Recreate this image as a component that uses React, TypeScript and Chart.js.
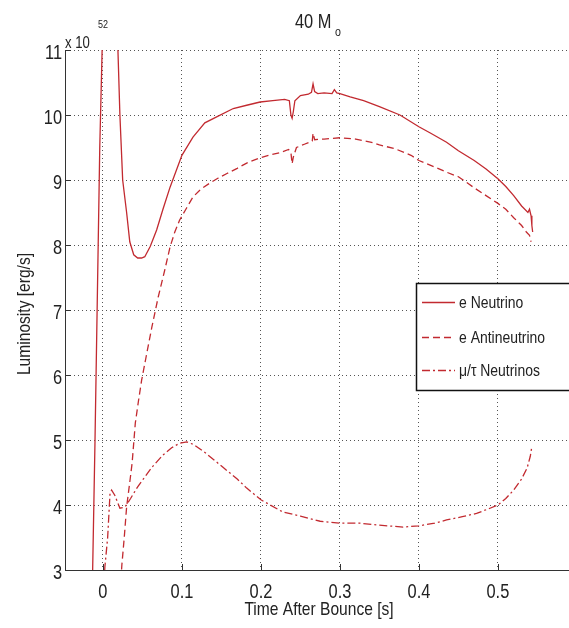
import React, { useEffect, useRef } from "react";
import { Chart, registerables } from "chart.js";

Chart.register(...registerables);

// ---- data (luminosity in units of 1e52 erg/s, time in s) ----
const xTicks = [0, 0.1, 0.2, 0.3, 0.4, 0.5];
const yTicks = [3, 4, 5, 6, 7, 8, 9, 10, 11];

const tNu = [-0.016, -0.013, -0.01, -0.006, -0.004, -0.001, 0.003, 0.008, 0.014, 0.019, 0.0215, 0.025, 0.03, 0.034, 0.039, 0.044, 0.049, 0.053, 0.06, 0.068, 0.076, 0.085, 0.1, 0.114, 0.129, 0.144, 0.165, 0.182, 0.199, 0.215, 0.23, 0.236, 0.238, 0.2395, 0.241, 0.243, 0.25, 0.26, 0.264, 0.266, 0.268, 0.272, 0.28, 0.29, 0.293, 0.296, 0.3, 0.313, 0.33, 0.35, 0.376, 0.4, 0.415, 0.435, 0.45, 0.47, 0.485, 0.5, 0.51, 0.52, 0.53, 0.538, 0.54, 0.542, 0.543, 0.544];
const lNu = [2, 3, 5, 8, 9.5, 11, 12.5, 13, 12.5, 11, 10, 9, 8.5, 8.05, 7.85, 7.8, 7.8, 7.82, 7.98, 8.23, 8.55, 8.89, 9.38, 9.66, 9.88, 9.97, 10.1, 10.15, 10.2, 10.22, 10.24, 10.22, 10.0, 9.95, 10.05, 10.22, 10.3, 10.32, 10.35, 10.48, 10.36, 10.33, 10.34, 10.33, 10.39, 10.34, 10.33, 10.28, 10.22, 10.13, 10.0, 9.82, 9.72, 9.58, 9.45, 9.3, 9.17, 9.02, 8.9, 8.76, 8.6, 8.5, 8.55, 8.45, 8.3, 8.2];

const tAnti = [0.021, 0.024, 0.027, 0.03, 0.034, 0.037, 0.041, 0.045, 0.049, 0.055, 0.062, 0.07, 0.078, 0.085, 0.091, 0.097, 0.105, 0.114, 0.124, 0.135, 0.146, 0.157, 0.17, 0.182, 0.192, 0.199, 0.21, 0.224, 0.235, 0.238, 0.2395, 0.241, 0.245, 0.255, 0.265, 0.266, 0.268, 0.28, 0.3, 0.32, 0.34, 0.35, 0.37, 0.39, 0.4, 0.42, 0.435, 0.45, 0.47, 0.485, 0.5, 0.51, 0.52, 0.53, 0.536, 0.54, 0.542];
const lAnti = [2.5, 3.08, 3.5, 3.97, 4.35, 4.65, 5.26, 5.6, 5.92, 6.3, 6.74, 7.2, 7.6, 7.97, 8.2, 8.38, 8.55, 8.74, 8.86, 8.95, 9.03, 9.1, 9.18, 9.26, 9.31, 9.34, 9.38, 9.42, 9.47, 9.42, 9.25, 9.35, 9.5, 9.55, 9.6, 9.72, 9.62, 9.63, 9.65, 9.63, 9.58, 9.54, 9.48, 9.38, 9.3, 9.2, 9.12, 9.05, 8.88, 8.76, 8.64, 8.55, 8.42, 8.3, 8.2, 8.15, 8.05];

const tMuTau = [0.0, 0.0025, 0.006, 0.009, 0.011, 0.015, 0.0215, 0.028, 0.035, 0.044, 0.053, 0.062, 0.076, 0.087, 0.097, 0.106, 0.115, 0.13, 0.152, 0.17, 0.182, 0.2, 0.228, 0.25, 0.275, 0.3, 0.325, 0.35, 0.38, 0.4, 0.42, 0.435, 0.455, 0.473, 0.49, 0.5, 0.51, 0.52, 0.53, 0.537, 0.541, 0.543];
const lMuTau = [2.5, 3.05, 3.5, 4.18, 4.23, 4.15, 3.95, 3.97, 4.1, 4.28, 4.43, 4.58, 4.77, 4.88, 4.95, 4.97, 4.93, 4.8, 4.58, 4.4, 4.26, 4.08, 3.89, 3.83, 3.75, 3.72, 3.72, 3.69, 3.66, 3.68, 3.72, 3.77, 3.82, 3.87, 3.95, 4.0, 4.1, 4.23, 4.4, 4.57, 4.75, 4.9];

const seriesNames = ["e Neutrino", "e Antineutrino", "\u03bc/\u03c4 Neutrinos"];
const LINE_COLOR = "#c22a30";
const DASHES = [[], [7, 4], [8, 3, 2, 3]];
const TEXT = "#222";
const FONT = '"Liberation Sans", Arial, sans-serif';

function zip(t: number[], l: number[]) {
  return t.map((x, i) => ({ x, y: l[i] }));
}

function txt(ctx: CanvasRenderingContext2D, s: string, x: number, y: number, size: number, align: CanvasTextAlign, baseline: CanvasTextBaseline, rot = 0) {
  ctx.save();
  ctx.translate(x, y);
  if (rot) ctx.rotate(rot);
  ctx.scale(0.82, 1);
  ctx.font = `${size}px ${FONT}`;
  ctx.fillStyle = TEXT;
  ctx.textAlign = align;
  ctx.textBaseline = baseline;
  ctx.fillText(s, 0, 0);
  ctx.restore();
}

const decor = {
  id: "matlabDecor",
  afterDraw(chart: any) {
    const { ctx, chartArea, scales } = chart;
    const xs = scales.x, ys = scales.y;
    ctx.save();
    // inward tick marks
    ctx.strokeStyle = "#333";
    ctx.lineWidth = 1;
    ctx.beginPath();
    xTicks.forEach((v) => {
      const px = Math.round(xs.getPixelForValue(v)) + 0.5;
      ctx.moveTo(px, chartArea.bottom);
      ctx.lineTo(px, chartArea.bottom - 6);
    });
    yTicks.forEach((v) => {
      const py = Math.round(ys.getPixelForValue(v)) + 0.5;
      ctx.moveTo(chartArea.left, py);
      ctx.lineTo(chartArea.left + 6, py);
    });
    ctx.stroke();
    // tick labels
    xTicks.forEach((v) => {
      txt(ctx, String(v), xs.getPixelForValue(v), chartArea.bottom + 28, 20, "center", "alphabetic");
    });
    yTicks.forEach((v) => {
      txt(ctx, String(v), chartArea.left - 3, ys.getPixelForValue(v) + 9, 20, "right", "alphabetic");
    });
    // axis titles
    txt(ctx, "Time After Bounce [s]", 319, 615, 19, "center", "alphabetic");
    txt(ctx, "Luminosity [erg/s]", 30, 314, 19, "center", "alphabetic", -Math.PI / 2);
    // exponent
    txt(ctx, "x 10", 65, 48, 16, "left", "alphabetic");
    txt(ctx, "52", 98, 28, 11, "left", "alphabetic");
    // title
    txt(ctx, "40 M", 295, 28, 20, "left", "alphabetic");
    txt(ctx, "o", 335, 36, 13, "left", "alphabetic");
    // legend
    ctx.fillStyle = "#fff";
    ctx.fillRect(416, 283, 160, 107);
    ctx.strokeStyle = "#111";
    ctx.lineWidth = 1.5;
    ctx.strokeRect(416.5, 283.5, 170, 107);
    const ly = [302, 337, 370];
    seriesNames.forEach((name, i) => {
      ctx.save();
      ctx.strokeStyle = LINE_COLOR;
      ctx.lineWidth = 1.3;
      ctx.setLineDash(DASHES[i]);
      ctx.beginPath();
      ctx.moveTo(422, ly[i] + 0.5);
      ctx.lineTo(455, ly[i] + 0.5);
      ctx.stroke();
      ctx.restore();
      txt(ctx, name, 459, ly[i] + 6, 17, "left", "alphabetic");
    });
    ctx.restore();
  },
};

export default function App() {
  const ref = useRef<HTMLCanvasElement | null>(null);
  useEffect(() => {
    if (!ref.current) return;
    const fitFixed = (w: number | null, h: number | null) => (s: any) => {
      if (w !== null) s.width = w;
      if (h !== null) s.height = h;
      s.paddingLeft = 0;
      s.paddingRight = 0;
      s.paddingTop = 0;
      s.paddingBottom = 0;
    };
    const chart = new Chart(ref.current, {
      type: "line",
      data: {
        datasets: [
          { label: seriesNames[0], data: zip(tNu, lNu), borderDash: DASHES[0] },
          { label: seriesNames[1], data: zip(tAnti, lAnti), borderDash: DASHES[1] },
          { label: seriesNames[2], data: zip(tMuTau, lMuTau), borderDash: DASHES[2] },
        ].map((d) => ({
          ...d,
          borderColor: LINE_COLOR,
          backgroundColor: LINE_COLOR,
          borderWidth: 1.3,
          pointRadius: 0,
          tension: 0,
          fill: false,
        })) as any,
      },
      options: {
        responsive: false,
        animation: false,
        events: [],
        layout: { padding: { top: 50, left: 0, right: 0, bottom: 0 } },
        plugins: { legend: { display: false }, tooltip: { enabled: false }, title: { display: false } },
        scales: {
          x: {
            type: "linear",
            min: -0.048,
            max: 0.59,
            afterBuildTicks: (s: any) => {
              s.ticks = xTicks.map((v) => ({ value: v }));
            },
            afterFit: fitFixed(null, 58),
            ticks: { display: false },
            grid: { color: "#555", lineWidth: 1, drawTicks: false, tickLength: 0 },
            border: { display: true, color: "#333", width: 1, dash: [1, 3] },
          },
          y: {
            type: "linear",
            min: 3,
            max: 11,
            afterBuildTicks: (s: any) => {
              s.ticks = yTicks.map((v) => ({ value: v }));
            },
            afterFit: fitFixed(65, null),
            ticks: { display: false },
            grid: { color: "#555", lineWidth: 1, drawTicks: false, tickLength: 0 },
            border: { display: true, color: "#333", width: 1, dash: [1, 3] },
          },
        },
      } as any,
      plugins: [decor],
    });
    return () => chart.destroy();
  }, []);
  return (
    <div style={{ position: "absolute", left: 0, top: 0, width: 569, height: 628, background: "#fff" }}>
      <canvas ref={ref} width={569} height={628} />
    </div>
  );
}
